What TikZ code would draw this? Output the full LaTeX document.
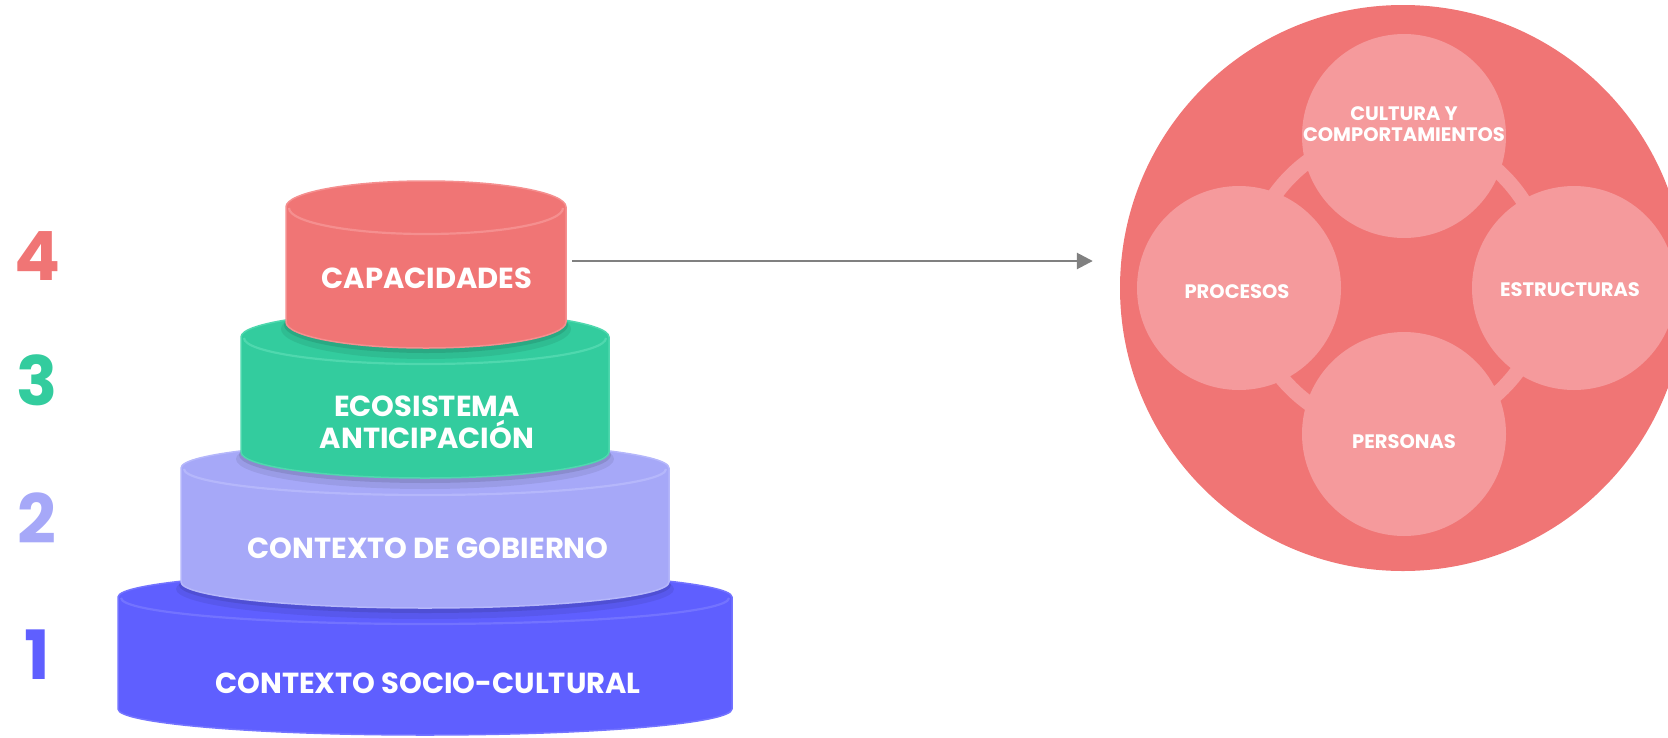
\documentclass[tikz,border=0pt]{standalone}
\usepackage{fontspec}
\setmainfont{Poppins}
\usetikzlibrary{arrows.meta,calc}
\definecolor{cred}{HTML}{F07575}
\definecolor{credrim}{HTML}{F58F8F}
\definecolor{cgreen}{HTML}{33CC9E}
\definecolor{cgreenrim}{HTML}{4FD8AE}
\definecolor{clav}{HTML}{A6A8F8}
\definecolor{clavrim}{HTML}{B5B7FB}
\definecolor{cblue}{HTML}{5F5FFF}
\definecolor{cbluerim}{HTML}{7373FF}
\definecolor{cpink}{HTML}{F59A9C}
\definecolor{carrow}{HTML}{808080}
% shadow: cx, yb, rx, ry
\newcommand\cylshadow[4]{%
  \fill[black,opacity=0.07] (#1,#2+7) ellipse[x radius=#3+5, y radius=#4+4];
  \fill[black,opacity=0.10] (#1,#2+3) ellipse[x radius=#3+2, y radius=#4+2];
}
% cx, yt, yb, rx, ry, fill, rim
\newcommand\drawcyl[7]{%
  \fill[#6, draw=#7, line width=1.5]
    (#1-#4,#2) -- (#1-#4,#3)
    arc[start angle=180, end angle=0, x radius=#4, y radius=#5]
    -- (#1+#4,#2)
    arc[start angle=0, end angle=-180, x radius=#4, y radius=#5] -- cycle;
  \draw[#7, line width=2.2] (#1-#4+3,#2+1)
    arc[start angle=180, end angle=0, x radius=#4-3, y radius=#5];
}
\begin{document}
\begin{tikzpicture}[x=1pt,y=-1pt,
  cyltext/.style={text=white, font=\bfseries\fontsize{29}{32}\selectfont, inner sep=0pt, align=center},
  numtext/.style={font=\bfseries\fontsize{68}{70}\selectfont, inner sep=0pt},
  circtext/.style={text=white, font=\bfseries\fontsize{19.5}{21}\selectfont, inner sep=0pt, align=center},
  smallcirc/.style={circle, fill=cpink, minimum size=204pt, inner sep=0pt},
  arrowline/.style={carrow, line width=2.7, -{Triangle[length=16pt,width=16pt]}}]
\useasboundingbox (0,0) rectangle (1668,737);
\clip (0,0) rectangle (1668,737);

% numbers
\node[numtext, text=cred]   (n4) at (38,256) {4};
\node[numtext, text=cgreen] (n3) at (37,380) {3};
\node[numtext, text=clav]   (n2) at (37,518) {2};
\node[numtext, text=cblue]  (n1) at (37,655) {1};

% cylinders, bottom to top
\drawcyl{425}{597}{709}{307}{26}{cblue}{cbluerim}
\cylshadow{425}{582}{244}{26}
\drawcyl{425}{468}{582}{244}{26}{clav}{clavrim}
\cylshadow{425}{452}{184}{26}
\drawcyl{425}{337}{452}{184}{26}{cgreen}{cgreenrim}
\cylshadow{426}{322}{140}{26}
\drawcyl{426}{207}{322}{140}{26}{cred}{credrim}

\node[cyltext] (l1) at (428,683) {CONTEXTO SOCIO-CULTURAL};
\node[cyltext] (l2) at (428,548) {CONTEXTO DE GOBIERNO};
\node[cyltext] (l3) at (427,422) {ECOSISTEMA\\ANTICIPACIÓN};
\node[cyltext] (l4) at (427,278) {CAPACIDADES};

% right circle
\node[circle, fill=cred, minimum size=566pt, inner sep=0pt] (big) at (1403,288) {};
\draw[cpink, line width=15] (1397,282) circle[radius=150];
\node[smallcirc] (ctop) at (1404,136) {};
\node[smallcirc] (cleft) at (1239,288) {};
\node[smallcirc] (cright) at (1574,288) {};
\node[smallcirc] (cbot) at (1404,434) {};
\node[circtext] (ttop) at (1404,124.5) {CULTURA Y\\COMPORTAMIENTOS};
\node[circtext] (tleft) at (1237,292) {PROCESOS};
\node[circtext] (tright) at (1570,290) {ESTRUCTURAS};
\node[circtext] (tbot) at (1404,442) {PERSONAS};

% arrow
\coordinate (astart) at (572,261);
\draw[arrowline, shorten >=27pt] (astart) -- (astart -| big.west);
\end{tikzpicture}
\end{document}
